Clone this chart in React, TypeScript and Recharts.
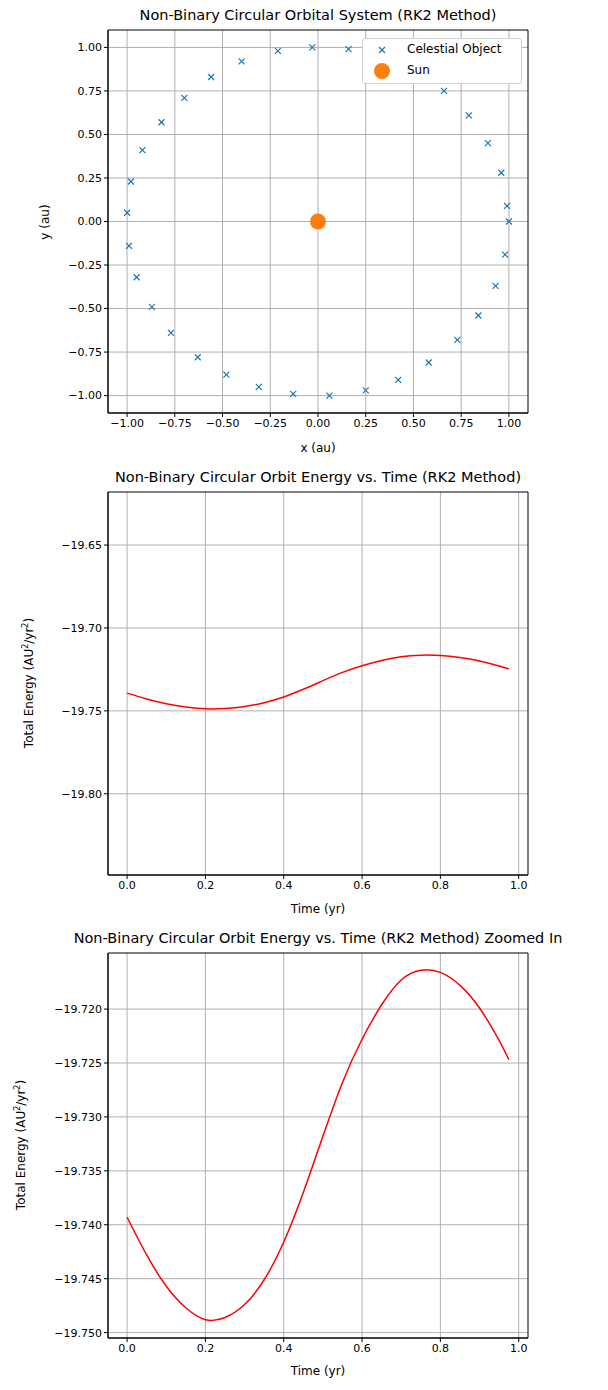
import { ScatterChart, Scatter, LineChart, Line, XAxis, YAxis, CartesianGrid, ReferenceArea } from 'recharts'

const orbitX = [1.0, 0.99, 0.96, 0.89, 0.79, 0.66, 0.5, 0.33, 0.16, -0.03, -0.21, -0.4, -0.56, -0.7, -0.82, -0.92, -0.98, -1.0, -0.99, -0.95, -0.87, -0.77, -0.63, -0.48, -0.31, -0.13, 0.06, 0.25, 0.42, 0.58, 0.73, 0.84, 0.93, 0.98]
const orbitY = [0.0, 0.09, 0.28, 0.45, 0.61, 0.75, 0.87, 0.94, 0.99, 1.0, 0.98, 0.92, 0.83, 0.71, 0.57, 0.41, 0.23, 0.05, -0.14, -0.32, -0.49, -0.64, -0.78, -0.88, -0.95, -0.99, -1.0, -0.97, -0.91, -0.81, -0.68, -0.54, -0.37, -0.19]

const times = [0, 0.05, 0.1, 0.15, 0.2, 0.25, 0.3, 0.35, 0.4, 0.45, 0.5, 0.55, 0.6, 0.65, 0.7, 0.75, 0.8, 0.85, 0.9, 0.95, 0.975]
const energy = [-19.7393, -19.7428, -19.7457, -19.7477, -19.7488, -19.7486, -19.7474, -19.7451, -19.7416, -19.737, -19.7318, -19.7268, -19.7228, -19.7196, -19.7173, -19.7164, -19.7166, -19.7178, -19.7199, -19.7229, -19.7247]

const orbitTicks = [-1, -0.75, -0.5, -0.25, 0, 0.25, 0.5, 0.75, 1]
const timeTicks = [0, 0.2, 0.4, 0.6, 0.8, 1.0]
const energyTicks = [-19.8, -19.75, -19.7, -19.65]
const zoomTicks = [-19.75, -19.745, -19.74, -19.735, -19.73, -19.725, -19.72]

const orbitData = orbitX.map((x, i) => ({ x, y: orbitY[i] }))
const sunData = [{ x: 0, y: 0 }]
const energyData = times.map((t, i) => ({ t, e: energy[i] }))

const FONT = 'DejaVu Sans, sans-serif'
const tickStyle = { fontSize: 11, fill: '#000', fontFamily: FONT }
const fmt = (d: number) => (v: number) => v.toFixed(d).replace('-', '\u2212')

function Cross(props: any) {
  const { cx, cy } = props
  const r = 3
  return (
    <g stroke="#1f77b4" strokeWidth={1.2}>
      <line x1={cx - r} y1={cy - r} x2={cx + r} y2={cy + r} />
      <line x1={cx - r} y1={cy + r} x2={cx + r} y2={cy - r} />
    </g>
  )
}

function Dot(props: any) {
  return <circle cx={props.cx} cy={props.cy} r={8} fill="#ff7f0e" />
}

function Title({ top, text }: { top: number; text: string }) {
  return (
    <div style={{ position: 'absolute', top, left: 0, width: 636, textAlign: 'center', fontSize: 14.5, fontFamily: FONT, whiteSpace: 'nowrap' }}>
      {text}
    </div>
  )
}

function YLabel({ top, left, children }: { top: number; left: number; children: any }) {
  return (
    <div style={{ position: 'absolute', top, left, transform: 'translate(-50%, -50%) rotate(-90deg)', fontSize: 12, fontFamily: FONT, whiteSpace: 'nowrap' }}>
      {children}
    </div>
  )
}

function XLabel({ top, text }: { top: number; text: string }) {
  return (
    <div style={{ position: 'absolute', top, left: 108, width: 420, textAlign: 'center', fontSize: 12, fontFamily: FONT }}>{text}</div>
  )
}

const energyLabel = <>Total Energy (AU<sup style={{ fontSize: 8 }}>2</sup>/yr<sup style={{ fontSize: 8 }}>2</sup>)</>

export default function App() {
  const axisProps = { stroke: '#000', tick: tickStyle, tickSize: 4, allowDataOverflow: true }
  return (
    <div style={{ position: 'absolute', left: 0, top: 0, width: 608, height: 1390, background: '#fff' }}>
      <Title top={7} text="Non-Binary Circular Orbital System (RK2 Method)" />
      <div style={{ position: 'absolute', top: 0, left: 0 }}>
        <ScatterChart width={608} height={460} margin={{ top: 30, right: 80, bottom: 0, left: 0 }}>
          <CartesianGrid stroke="#b0b0b0" horizontalValues={orbitTicks} verticalValues={orbitTicks} />
          <XAxis type="number" dataKey="x" domain={[-1.1, 1.1]} ticks={orbitTicks} tickFormatter={fmt(2)} height={47} {...axisProps} />
          <YAxis type="number" dataKey="y" domain={[-1.1, 1.1]} ticks={orbitTicks} tickFormatter={fmt(2)} width={108} {...axisProps} />
          <ReferenceArea x1={-1.1} x2={1.1} y1={-1.1} y2={1.1} fill="none" stroke="#000" strokeOpacity={1} />
          <Scatter data={orbitData} shape={<Cross />} isAnimationActive={false} />
          <Scatter data={sunData} shape={<Dot />} isAnimationActive={false} />
        </ScatterChart>
      </div>
      <div style={{ position: 'absolute', left: 362, top: 38, width: 158, height: 44, background: '#fff', border: '1px solid #d0d0d0', borderRadius: 3, fontFamily: FONT, fontSize: 12 }}>
        <svg width={30} height={40} style={{ position: 'absolute', left: 4, top: 2 }}>
          <g stroke="#1f77b4" strokeWidth={1.2}>
            <line x1={12} y1={6} x2={18} y2={12} />
            <line x1={12} y1={12} x2={18} y2={6} />
          </g>
          <circle cx={15} cy={30} r={8} fill="#ff7f0e" />
        </svg>
        <div style={{ position: 'absolute', left: 44, top: 3 }}>Celestial Object</div>
        <div style={{ position: 'absolute', left: 44, top: 24 }}>Sun</div>
      </div>
      <XLabel top={441} text="x (au)" />
      <YLabel top={222} left={45}>y (au)</YLabel>

      <Title top={469} text="Non-Binary Circular Orbit Energy vs. Time (RK2 Method)" />
      <div style={{ position: 'absolute', top: 460, left: 0 }}>
        <LineChart width={608} height={460} data={energyData} margin={{ top: 32, right: 80, bottom: 0, left: 0 }}>
          <CartesianGrid stroke="#b0b0b0" horizontalValues={energyTicks} verticalValues={timeTicks} />
          <XAxis type="number" dataKey="t" domain={[-0.04875, 1.02375]} ticks={timeTicks} tickFormatter={fmt(1)} height={45} {...axisProps} />
          <YAxis type="number" domain={[-19.849, -19.618]} ticks={energyTicks} tickFormatter={fmt(2)} width={108} {...axisProps} />
          <ReferenceArea x1={-0.04875} x2={1.02375} y1={-19.849} y2={-19.618} fill="none" stroke="#000" strokeOpacity={1} />
          <Line dataKey="e" type="natural" stroke="red" strokeWidth={1.5} dot={false} isAnimationActive={false} />
        </LineChart>
      </div>
      <XLabel top={902} text="Time (yr)" />
      <YLabel top={683} left={28}>{energyLabel}</YLabel>

      <Title top={930} text="Non-Binary Circular Orbit Energy vs. Time (RK2 Method) Zoomed In" />
      <div style={{ position: 'absolute', top: 920, left: 0 }}>
        <LineChart width={608} height={470} data={energyData} margin={{ top: 33, right: 80, bottom: 0, left: 0 }}>
          <CartesianGrid stroke="#b0b0b0" horizontalValues={zoomTicks} verticalValues={timeTicks} />
          <XAxis type="number" dataKey="t" domain={[-0.04875, 1.02375]} ticks={timeTicks} tickFormatter={fmt(1)} height={52} {...axisProps} />
          <YAxis type="number" domain={[-19.7505, -19.7148]} ticks={zoomTicks} tickFormatter={fmt(3)} width={108} {...axisProps} />
          <ReferenceArea x1={-0.04875} x2={1.02375} y1={-19.7505} y2={-19.7148} fill="none" stroke="#000" strokeOpacity={1} />
          <Line dataKey="e" type="natural" stroke="red" strokeWidth={1.5} dot={false} isAnimationActive={false} />
        </LineChart>
      </div>
      <XLabel top={1364} text="Time (yr)" />
      <YLabel top={1145} left={20}>{energyLabel}</YLabel>
    </div>
  )
}
